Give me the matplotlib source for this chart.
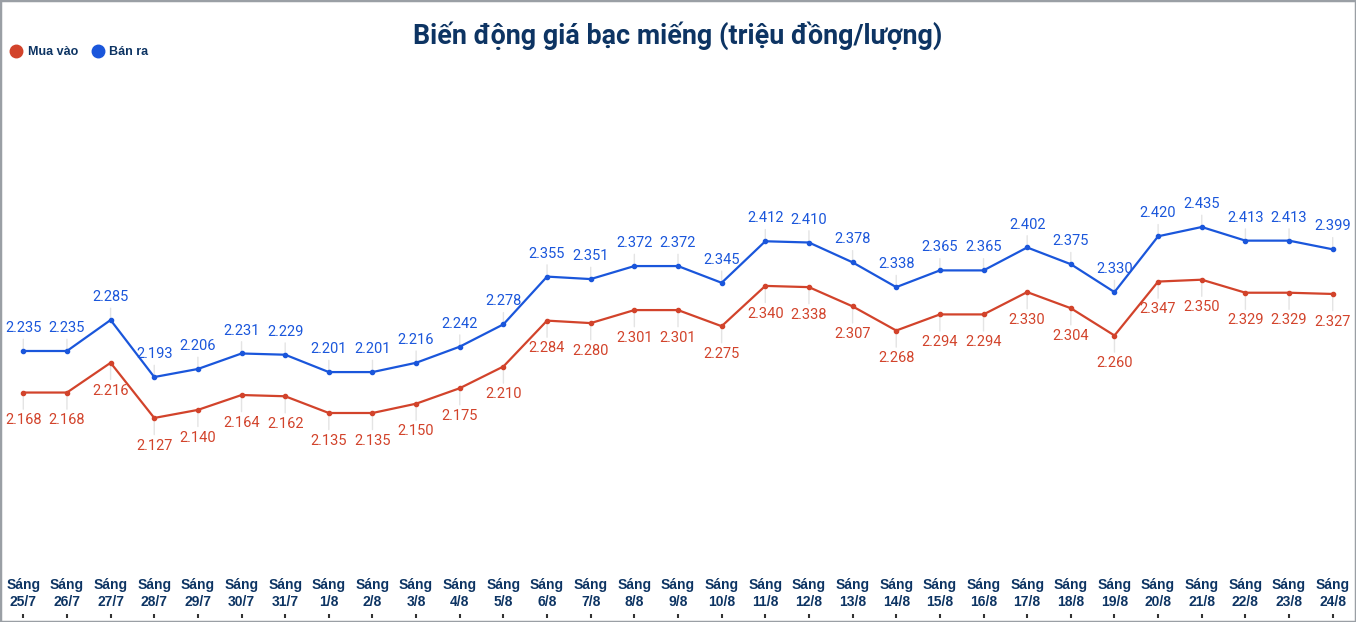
import matplotlib
matplotlib.use('Agg')
import matplotlib.pyplot as plt
from matplotlib.lines import Line2D
from matplotlib.patches import Rectangle

plt.rcParams['font.family'] = ['Roboto', 'DejaVu Sans']

dates = ['25/7', '26/7', '27/7', '28/7', '29/7', '30/7', '31/7',
         '1/8', '2/8', '3/8', '4/8', '5/8', '6/8', '7/8', '8/8', '9/8',
         '10/8', '11/8', '12/8', '13/8', '14/8', '15/8', '16/8', '17/8',
         '18/8', '19/8', '20/8', '21/8', '22/8', '23/8', '24/8']
mua_vao = [2.168, 2.168, 2.216, 2.127, 2.140, 2.164, 2.162, 2.135, 2.135, 2.150,
           2.175, 2.210, 2.284, 2.280, 2.301, 2.301, 2.275, 2.340, 2.338, 2.307,
           2.268, 2.294, 2.294, 2.330, 2.304, 2.260, 2.347, 2.350, 2.329, 2.329, 2.327]
ban_ra = [2.235, 2.235, 2.285, 2.193, 2.206, 2.231, 2.229, 2.201, 2.201, 2.216,
          2.242, 2.278, 2.355, 2.351, 2.372, 2.372, 2.345, 2.412, 2.410, 2.378,
          2.338, 2.365, 2.365, 2.402, 2.375, 2.330, 2.420, 2.435, 2.413, 2.413, 2.399]

red = '#D2432B'
blue = '#1A56DB'
navy = '#0D3463'

fig = plt.figure(figsize=(13.56, 6.22), dpi=100)
# axes from y=60px to y=618px
ax = fig.add_axes([0, 4 / 622, 1, 558 / 622])
x = list(range(len(dates)))

ax.plot(x, ban_ra, '-o', color=blue, lw=1.6, ms=3, zorder=3)
ax.plot(x, mua_vao, '-o', color=red, lw=1.6, ms=3, zorder=3)

for i in x:
    ax.annotate(f'{ban_ra[i]:.3f}', xy=(i, ban_ra[i]), xytext=(0, 16.5),
                textcoords='offset points', ha='center', va='center',
                fontsize=10.5, color=blue, zorder=2,
                arrowprops=dict(arrowstyle='-', color='#e4e4e4', lw=1,
                                shrinkA=1, shrinkB=0))
    ax.annotate(f'{mua_vao[i]:.3f}', xy=(i, mua_vao[i]), xytext=(0, -20),
                textcoords='offset points', ha='center', va='center',
                fontsize=10.5, color=red, zorder=2,
                arrowprops=dict(arrowstyle='-', color='#e4e4e4', lw=1,
                                shrinkA=1, shrinkB=0))
    ax.text(i, 0.0439, f'Sáng\n{dates[i]}', transform=ax.get_xaxis_transform(),
            ha='center', va='center', fontsize=10, fontweight='bold',
            color=navy, linespacing=1.2, family='Liberation Sans')

ax.set_xlim(-0.534, 30.534)
ax.set_ylim(2.235 - (618 - 351) / 620, 2.235 + (351 - 60) / 620)
ax.set_xticks(x)
ax.set_yticks([])
ax.tick_params(axis='x', direction='in', length=3, width=1.5, color='#333333',
               labelbottom=False)
for s in ax.spines.values():
    s.set_visible(False)

fig.text(0.5, 1 - 36 / 622, 'Biến động giá bạc miếng (triệu đồng/lượng)',
         ha='center', va='center', fontsize=19.4, fontweight='bold', color=navy)

handles = [Line2D([], [], ls='', marker='o', ms=9, color=red),
           Line2D([], [], ls='', marker='o', ms=9, color=blue)]
leg = fig.legend(handles, ['Mua vào', 'Bán ra'], loc='center left',
                 bbox_to_anchor=(0.0, 1 - 52 / 622), frameon=False, ncol=2,
                 handlelength=0.8, handletextpad=0.5, columnspacing=1.2,
                 prop={'size': 9, 'weight': 'bold', 'family': 'Liberation Sans'})
for t in leg.get_texts():
    t.set_color(navy)

fig.patches.append(Rectangle((0, 0), 1, 1, transform=fig.transFigure,
                             fill=False, edgecolor='#9a9fa5', lw=2.5))

fig.savefig('out.png', dpi=100)
